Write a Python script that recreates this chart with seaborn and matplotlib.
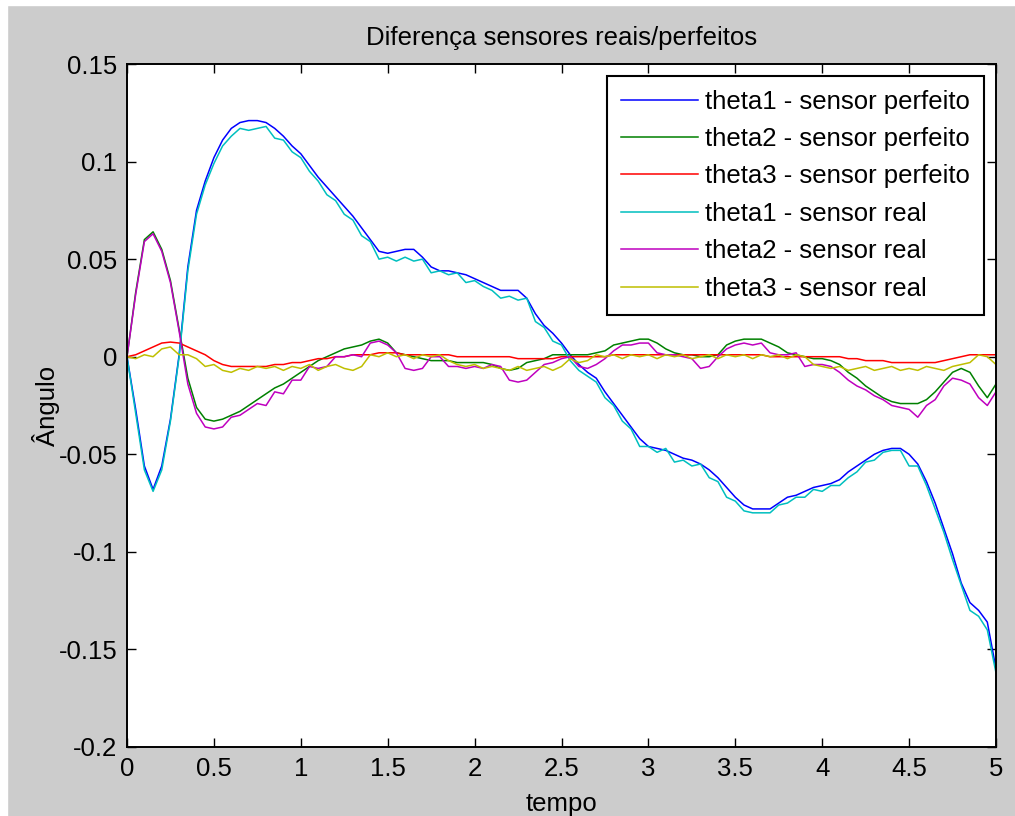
import numpy as np
import pandas as pd
import seaborn as sns
import matplotlib
matplotlib.use('Agg')
from matplotlib import pyplot as plt
from matplotlib.patches import Rectangle


# tempo de simulação (amostrado a cada 0.05 s)
tempo = np.linspace(0, 5, 101)

theta1_perfeito = [
    0.000, -0.027, -0.056, -0.068, -0.056, -0.032, 0.001, 0.046, 0.075, 0.090,
    0.102, 0.111, 0.117, 0.120, 0.121, 0.121, 0.120, 0.117, 0.113, 0.108,
    0.104, 0.098, 0.092, 0.087, 0.082, 0.077, 0.072, 0.066, 0.060, 0.054,
    0.053, 0.054, 0.055, 0.055, 0.051, 0.046, 0.044, 0.044, 0.043, 0.042,
    0.040, 0.038, 0.036, 0.034, 0.034, 0.034, 0.030, 0.022, 0.016, 0.012,
    0.007, 0.001, -0.004, -0.008, -0.011, -0.018, -0.024, -0.030, -0.036, -0.042,
    -0.046, -0.047, -0.048, -0.050, -0.052, -0.053, -0.055, -0.058, -0.062, -0.067,
    -0.072, -0.076, -0.078, -0.078, -0.078, -0.075, -0.072, -0.071, -0.069, -0.067,
    -0.066, -0.065, -0.063, -0.059, -0.056, -0.053, -0.050, -0.048, -0.047, -0.047,
    -0.050, -0.055, -0.064, -0.075, -0.088, -0.101, -0.116, -0.126, -0.130, -0.136,
    -0.160]

theta2_perfeito = [
    0.000, 0.033, 0.060, 0.064, 0.055, 0.039, 0.014, -0.011, -0.026, -0.032,
    -0.033, -0.032, -0.030, -0.028, -0.025, -0.022, -0.019, -0.016, -0.014, -0.011,
    -0.008, -0.005, -0.002, 0.000, 0.002, 0.004, 0.005, 0.006, 0.008, 0.009,
    0.007, 0.002, 0.001, 0.000, -0.001, -0.002, -0.002, -0.002, -0.003, -0.003,
    -0.003, -0.003, -0.004, -0.006, -0.007, -0.006, -0.003, -0.002, -0.001, 0.001,
    0.001, 0.001, 0.001, 0.001, 0.002, 0.003, 0.006, 0.007, 0.008, 0.009,
    0.009, 0.007, 0.004, 0.002, 0.001, 0.001, 0.000, 0.000, 0.001, 0.006,
    0.008, 0.009, 0.009, 0.009, 0.007, 0.005, 0.002, 0.001, 0.000, -0.001,
    -0.001, -0.002, -0.004, -0.008, -0.011, -0.015, -0.018, -0.021, -0.023, -0.024,
    -0.024, -0.024, -0.022, -0.018, -0.013, -0.008, -0.006, -0.008, -0.015, -0.021,
    -0.014]

theta3_perfeito = [
    0.000, 0.001, 0.003, 0.005, 0.007, 0.0075, 0.007, 0.005, 0.003, 0.001,
    -0.002, -0.004, -0.005, -0.005, -0.005, -0.005, -0.005, -0.004, -0.004, -0.003,
    -0.003, -0.002, -0.001, -0.001, 0.000, 0.000, 0.001, 0.001, 0.001, 0.002,
    0.002, 0.002, 0.001, 0.001, 0.001, 0.001, 0.001, 0.001, 0.000, 0.000,
    0.000, 0.000, 0.000, 0.000, 0.000, -0.001, -0.001, -0.001, -0.001, -0.001,
    0.000, 0.000, 0.000, 0.000, 0.000, 0.000, 0.001, 0.001, 0.001, 0.001,
    0.001, 0.001, 0.001, 0.001, 0.001, 0.001, 0.001, 0.001, 0.001, 0.001,
    0.001, 0.001, 0.001, 0.001, 0.000, 0.000, 0.000, 0.000, 0.000, 0.000,
    0.000, 0.000, 0.000, -0.001, -0.001, -0.002, -0.002, -0.002, -0.003, -0.003,
    -0.003, -0.003, -0.003, -0.003, -0.002, -0.001, 0.000, 0.001, 0.001, 0.001,
    0.001]

theta1_real = [
    0.000, -0.029, -0.058, -0.069, -0.058, -0.033, 0.000, 0.044, 0.073, 0.088,
    0.099, 0.108, 0.113, 0.117, 0.116, 0.117, 0.118, 0.112, 0.111, 0.105,
    0.102, 0.095, 0.090, 0.083, 0.080, 0.073, 0.070, 0.062, 0.059, 0.050,
    0.051, 0.049, 0.051, 0.049, 0.050, 0.043, 0.044, 0.042, 0.043, 0.038,
    0.039, 0.036, 0.034, 0.030, 0.031, 0.029, 0.030, 0.018, 0.015, 0.008,
    0.006, -0.002, -0.007, -0.010, -0.013, -0.021, -0.025, -0.033, -0.037, -0.046,
    -0.046, -0.049, -0.047, -0.054, -0.053, -0.056, -0.055, -0.062, -0.064, -0.072,
    -0.074, -0.079, -0.080, -0.080, -0.080, -0.076, -0.075, -0.072, -0.072, -0.068,
    -0.069, -0.066, -0.066, -0.062, -0.059, -0.054, -0.053, -0.049, -0.048, -0.048,
    -0.056, -0.056, -0.066, -0.078, -0.090, -0.104, -0.117, -0.130, -0.133, -0.140,
    -0.162]

theta2_real = [
    0.000, 0.032, 0.059, 0.063, 0.054, 0.038, 0.013, -0.014, -0.029, -0.036,
    -0.037, -0.036, -0.031, -0.030, -0.027, -0.024, -0.025, -0.018, -0.019, -0.012,
    -0.012, -0.005, -0.006, -0.005, 0.000, 0.000, 0.001, 0.000, 0.007, 0.008,
    0.006, 0.002, -0.006, -0.007, -0.006, 0.000, 0.000, -0.005, -0.005, -0.006,
    -0.005, -0.006, -0.004, -0.005, -0.012, -0.013, -0.012, -0.008, -0.004, -0.003,
    -0.001, 0.000, -0.005, -0.006, -0.004, -0.001, 0.003, 0.006, 0.006, 0.007,
    0.007, 0.002, 0.001, 0.001, 0.000, -0.001, -0.006, -0.005, 0.000, 0.004,
    0.006, 0.007, 0.006, 0.007, 0.002, 0.001, 0.001, 0.002, -0.005, -0.004,
    -0.004, -0.005, -0.008, -0.012, -0.015, -0.017, -0.020, -0.022, -0.025, -0.026,
    -0.027, -0.031, -0.025, -0.022, -0.015, -0.011, -0.012, -0.014, -0.021, -0.025,
    -0.018]

theta3_real = [
    0.000, -0.001, 0.001, 0.000, 0.004, 0.005, 0.001, 0.001, -0.001, -0.005,
    -0.004, -0.007, -0.008, -0.006, -0.007, -0.005, -0.006, -0.005, -0.007, -0.005,
    -0.006, -0.004, -0.007, -0.005, -0.004, -0.006, -0.007, -0.005, 0.001, 0.000,
    0.002, 0.000, 0.001, -0.001, 0.001, 0.000, 0.001, -0.002, -0.004, -0.005,
    -0.004, -0.006, -0.005, -0.006, -0.007, -0.005, -0.007, -0.006, -0.005, -0.007,
    -0.005, -0.001, -0.003, -0.002, 0.001, 0.000, 0.001, -0.001, 0.001, 0.000,
    0.001, -0.001, 0.001, 0.000, 0.001, -0.001, 0.000, 0.001, -0.001, 0.001,
    0.000, 0.001, -0.001, 0.001, 0.000, 0.001, -0.001, 0.001, 0.000, -0.004,
    -0.005, -0.006, -0.005, -0.007, -0.006, -0.005, -0.007, -0.006, -0.005, -0.007,
    -0.006, -0.007, -0.005, -0.006, -0.007, -0.005, -0.004, -0.003, 0.001, 0.000,
    -0.004]

nomes_series = [
    'theta1 - sensor perfeito',
    'theta2 - sensor perfeito',
    'theta3 - sensor perfeito',
    'theta1 - sensor real',
    'theta2 - sensor real',
    'theta3 - sensor real',
]

# cores padrão do MATLAB antigo
cores = ['#0000ff', '#008000', '#ff0000', '#00bfbf', '#bf00bf', '#bfbf00']

xticks_valores = [0, 0.5, 1, 1.5, 2, 2.5, 3, 3.5, 4, 4.5, 5]
xticks_rotulos = ['0', '0.5', '1', '1.5', '2', '2.5', '3', '3.5', '4', '4.5', '5']
yticks_valores = [-0.2, -0.15, -0.1, -0.05, 0, 0.05, 0.1, 0.15]
yticks_rotulos = ['-0.2', '-0.15', '-0.1', '-0.05', '0', '0.05', '0.1', '0.15']


def montar_tabela():
    valores = [theta1_perfeito, theta2_perfeito, theta3_perfeito,
               theta1_real, theta2_real, theta3_real]
    partes = []
    for nome, v in zip(nomes_series, valores):
        partes.append(pd.DataFrame({'tempo': tempo, 'angulo': v, 'serie': nome}))
    return pd.concat(partes, ignore_index=True)


def gerar_grafico():
    df = montar_tabela()

    plt.rcParams['font.family'] = ['Liberation Sans', 'DejaVu Sans']
    fs = 18.5

    fig = plt.figure(figsize=(10.15, 8.16), dpi=100, facecolor='#cccccc')
    # borda branca do print
    fig.patches.append(Rectangle((0, 1 - 5 / 816), 1, 5 / 816, transform=fig.transFigure,
                                 color='white', zorder=-1))
    fig.patches.append(Rectangle((0, 0), 7 / 1015, 1, transform=fig.transFigure,
                                 color='white', zorder=-1))

    ax = fig.add_axes([127 / 1015, 1 - 747 / 816, 869 / 1015, 683 / 816])
    ax.set_facecolor('white')

    sns.lineplot(data=df, x='tempo', y='angulo', hue='serie', hue_order=nomes_series,
                 palette=cores, estimator=None, sort=False, linewidth=1.1,
                 legend=False, ax=ax)

    ax.set_xlim(0, 5)
    ax.set_ylim(-0.2, 0.15)
    ax.set_xticks(xticks_valores)
    ax.set_xticklabels(xticks_rotulos)
    ax.set_yticks(yticks_valores)
    ax.set_yticklabels(yticks_rotulos)
    ax.tick_params(direction='in', top=True, right=True, length=6.5, width=1.0,
                   labelsize=fs, pad=7, colors='black')
    for s in ax.spines.values():
        s.set_linewidth(1.4)
        s.set_color('black')

    ax.set_title('Diferença sensores reais/perfeitos', fontsize=fs, pad=14)
    ax.set_xlabel('tempo', fontsize=fs)
    ax.set_ylabel('Ângulo', fontsize=fs)
    ax.xaxis.set_label_coords(0.5, -0.066)
    ax.yaxis.set_label_coords(-0.077, 0.5)

    leg = ax.legend(handles=ax.lines, labels=nomes_series, loc='upper right',
                    fontsize=fs, frameon=True, fancybox=False, framealpha=1,
                    edgecolor='black', handlelength=3.0, handletextpad=0.3,
                    borderpad=0.55, labelspacing=0.52, borderaxespad=0.45)
    leg.get_frame().set_linewidth(1.5)

    fig.savefig('out.png', dpi=100, facecolor=fig.get_facecolor())


if __name__ == '__main__':
    gerar_grafico()
